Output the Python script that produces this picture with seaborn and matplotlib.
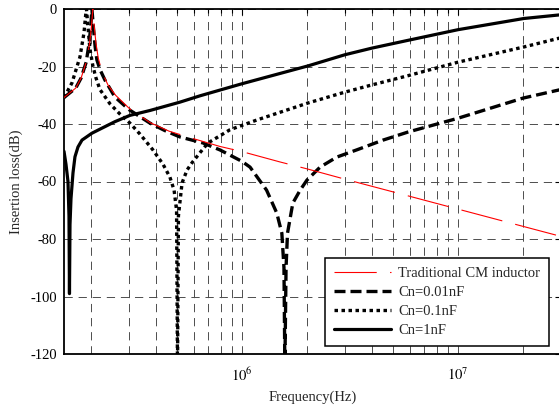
import numpy as np
import pandas as pd
import matplotlib
matplotlib.use("Agg")
import matplotlib.pyplot as plt
import seaborn as sns

# ---- data: insertion loss (dB) versus frequency (Hz) ----
freq_trad = [1.5e5, 1.7e5, 1.8e5, 1.9e5, 1.97e5, 2.01e5, 2.04e5, 2.07e5, 2.11e5,
             2.16e5, 2.25e5, 2.4e5, 2.6e5, 3.0e5, 3.75e5, 4.6e5, 5.9e5, 7.9e5,
             1.0e6, 1.5e6, 2.0e6, 3.0e6, 5.0e6, 1.0e7, 2.0e7, 3.0e7]
il_trad = [-30.8, -27.5, -24.0, -18.5, -12.0, -6.0, 0.0, -6.0, -12.0,
           -17.0, -22.0, -26.5, -30.0, -34.5, -39.5, -42.5, -45.0, -47.8,
           -49.6, -53.2, -55.6, -59.2, -63.6, -69.6, -75.6, -79.1]

freq_001 = [1.5e5, 1.7e5, 1.8e5, 1.9e5, 1.96e5, 2.0e5, 2.02e5, 2.05e5, 2.09e5,
            2.13e5, 2.2e5, 2.32e5, 2.58e5, 3.0e5, 3.75e5, 4.4e5, 5.16e5, 6.6e5,
            7.9e5, 1.0e6, 1.09e6, 1.3e6, 1.45e6, 1.53e6, 1.565e6, 1.58e6, 1.6e6,
            1.625e6, 1.72e6, 1.86e6, 2.0e6, 2.3e6, 2.75e6, 3.4e6, 4.5e6, 5.87e6,
            1.0e7, 2.0e7, 3.0e7]
il_001 = [-30.8, -27.5, -24.0, -18.5, -12.0, -5.0, 0.0, -6.0, -13.0,
          -17.7, -21.0, -24.7, -30.6, -35.0, -39.7, -42.3, -44.5, -46.6,
          -49.0, -53.0, -55.0, -63.0, -71.0, -78.0, -90.0, -125.0, -90.0,
          -78.0, -67.5, -63.0, -59.5, -55.0, -51.5, -49.0, -45.6, -42.8,
          -38.0, -31.0, -28.0]

freq_01 = [1.5e5, 1.633e5, 1.778e5, 1.856e5, 1.896e5, 1.906e5, 1.936e5, 1.978e5,
           2.043e5, 2.11e5, 2.2e5, 2.45e5, 2.72e5, 3.03e5, 3.37e5, 3.87e5, 4.31e5,
           4.64e5, 4.85e5, 4.98e5, 5.03e5, 5.08e5, 5.28e5, 5.57e5, 5.87e5, 6.39e5,
           6.96e5, 8.8e5, 1.173e6, 2.02e6, 3.0e6, 4.0e6, 5.87e6, 1.0e7, 2.02e7, 3.0e7]
il_01 = [-30.8, -25.7, -16.7, -8.3, -1.0, 0.0, -6.0, -14.0,
         -20.0, -24.0, -28.0, -33.0, -36.5, -39.7, -43.5, -49.0, -54.0,
         -58.5, -63.0, -70.0, -125.0, -72.0, -60.5, -56.0, -53.5, -50.0,
         -46.6, -42.0, -38.6, -32.7, -28.9, -26.4, -23.2, -18.5, -13.2, -10.0]

freq_1 = [1.5e5, 1.532e5, 1.565e5, 1.582e5, 1.59e5, 1.599e5, 1.616e5, 1.651e5,
          1.686e5, 1.741e5, 1.817e5, 2.02e5, 2.2e5, 2.58e5, 3.03e5, 3.75e5,
          5.16e5, 6.39e5, 7.91e5, 1.0e6, 2.02e6, 3.0e6, 4.0e6, 5.87e6, 1.0e7,
          2.02e7, 3.0e7]
il_1 = [-49.5, -54.0, -60.0, -72.0, -99.0, -75.0, -66.0, -57.0,
        -51.4, -48.0, -45.6, -43.2, -41.8, -39.2, -37.0, -35.3,
        -32.4, -30.2, -28.2, -26.0, -19.8, -15.9, -13.6, -10.9, -7.2,
        -3.3, -2.0]

labels = ["Traditional CM inductor", "Cn=0.01nF", "Cn=0.1nF", "Cn=1nF"]
x_ticks = [1e6, 1e7]
y_ticks = [0, -20, -40, -60, -80, -100, -120]

# ---- style ----
sns.set_style("white")
plt.rcParams["font.family"] = ["Liberation Serif", "DejaVu Serif"]
plt.rcParams["mathtext.fontset"] = "stix"
plt.rcParams["axes.unicode_minus"] = False
plt.rcParams["font.size"] = 10.5

fig = plt.figure(figsize=(5.59, 4.13), dpi=100)
W, H = 559, 413
ax = fig.add_axes([64 / W, 1 - 354 / H, (561 - 64) / W, 345 / H])

series = [
    (freq_trad, il_trad, dict(color="red", lw=0.8, linestyle=(0, (38, 12)), zorder=5)),
    (freq_001, il_001, dict(color="black", lw=2.4, linestyle=(0, (3.3, 1.5)), zorder=4)),
    (freq_01, il_01, dict(color="black", lw=2.4, linestyle=(0, (1.05, 1.05)), zorder=4)),
    (freq_1, il_1, dict(color="black", lw=2.3, linestyle="-", zorder=4)),
]
for (f, il, kw), lab in zip(series, labels):
    df = pd.DataFrame({"Frequency": f, "IL": il})
    sns.lineplot(data=df, x="Frequency", y="IL", ax=ax, label=lab,
                 estimator=None, sort=False, **kw)

ax.set_xscale("log")
ax.set_xlim(1.5e5, 3e7)
ax.set_ylim(-120, 0)
ax.set_xticks(x_ticks)
ax.set_xticklabels([r"$10^{6}$", r"$10^{7}$"])
ax.set_yticks(y_ticks)
ax.set_yticklabels([str(v) for v in y_ticks])

# dashed grid on major and minor decades
grid_kw = dict(color="#4d4d4d", lw=0.7, linestyle=(0, (8.5, 6)))
ax.grid(True, which="major", axis="both", **grid_kw)
ax.grid(True, which="minor", axis="x", **grid_kw)
ax.set_axisbelow(True)

ax.tick_params(which="both", direction="in", top=True, right=True, colors="black",
               labelsize=10.5, width=0.8)
ax.tick_params(which="major", length=4.5)
ax.tick_params(axis="x", which="major", pad=9)
ax.tick_params(axis="y", which="major", pad=5)
ax.tick_params(which="minor", length=3)
for s in ax.spines.values():
    s.set_color("black")
    s.set_linewidth(1.3)

ax.set_xlabel("Frequency(Hz)", fontsize=10.5, labelpad=5)
ax.set_ylabel("Insertion loss(dB)", fontsize=10.5, labelpad=5)

leg = ax.legend(loc="upper left", bbox_to_anchor=(325 / W, 1 - 258 / H),
                bbox_transform=fig.transFigure, frameon=True, fancybox=False,
                framealpha=1, edgecolor="black", fontsize=10.5,
                handlelength=3.9, handletextpad=0.5, labelspacing=0.4,
                borderpad=0.6, borderaxespad=0)
leg.get_frame().set_linewidth(1.1)

fig.savefig("out.png", dpi=100)
